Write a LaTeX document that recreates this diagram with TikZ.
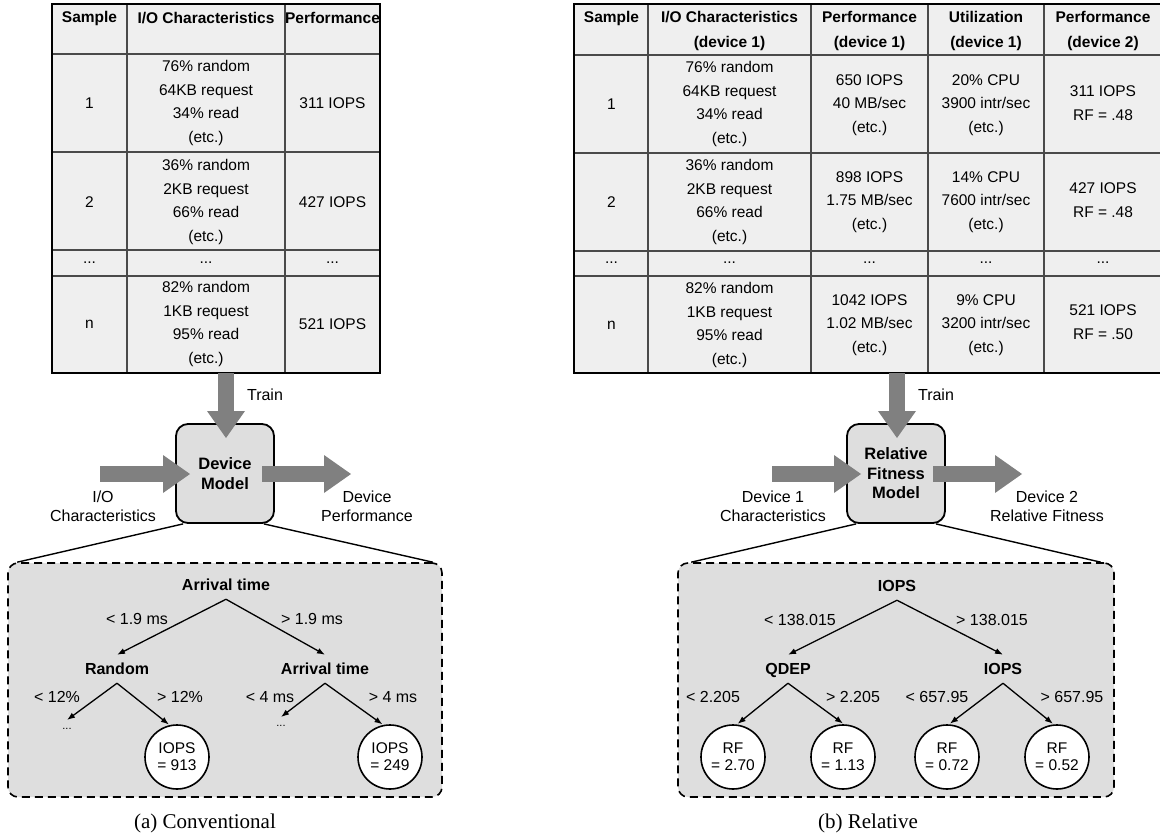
\documentclass[tikz,border=0pt]{standalone}
\usepackage{fontspec}
\setmainfont{Liberation Serif}
\newfontfamily\arial{Liberation Sans}
\usetikzlibrary{arrows.meta}
\definecolor{tabfill}{HTML}{EFEFEF}
\definecolor{boxfill}{HTML}{DEDEDE}
\definecolor{bigarrowc}{HTML}{808080}
\definecolor{gridc}{HTML}{4A4A4A}
\tikzset{
  cell/.style={font=\arial\fontsize{15.5}{23.5}\selectfont, align=center, inner sep=0pt},
  hcell/.style={font=\arial\bfseries\fontsize{15.5}{25}\selectfont, align=center, inner sep=0pt},
  gridline/.style={draw=gridc, line width=1.3pt},
  tableborder/.style={draw=black, line width=2.2pt},
  model/.style={draw, line width=1.8pt, fill=boxfill, rounded corners=12pt, minimum width=98pt, minimum height=99pt, align=center, font=\arial\bfseries\fontsize{16.5}{19.5}\selectfont, inner sep=0pt},
  bigarrow/.style={draw=bigarrowc, line width=16pt, -{Triangle[length=27pt,width=38pt,line width=0pt]}},
  sidelabel/.style={font=\arial\fontsize{16}{19}\selectfont, align=center, inner sep=0pt},
  dashbox/.style={draw, dash pattern=on 8pt off 5pt, line width=1.6pt, fill=boxfill, rounded corners=10pt, inner sep=0pt},
  zoomline/.style={line width=1.4pt},
  tnode/.style={font=\arial\bfseries\fontsize{16}{18}\selectfont, inner sep=0pt, text height=12.5pt, text depth=1pt, outer sep=7.5pt},
  elabel/.style={font=\arial\fontsize{16}{18}\selectfont, inner sep=0pt},
  leaf/.style={circle, draw, line width=1.6pt, fill=white, minimum size=64pt, inner sep=0pt, align=center, font=\arial\fontsize{15.5}{17}\selectfont, outer sep=1.5pt},
  tedge/.style={line width=1.3pt, -{Latex[length=8pt,width=6pt]}},
  dotsnode/.style={font=\arial\fontsize{11}{12}\selectfont, inner sep=0pt, text height=3pt, text depth=0pt, outer sep=6pt},
  caption/.style={font=\fontsize{21}{24}\selectfont, inner sep=0pt}
}
\begin{document}
\begin{tikzpicture}[x=1pt,y=-1pt]
\useasboundingbox (0,0) rectangle (1160,840);

% ---------- left table ----------
\fill[tabfill] (52,4) rectangle (380,373);
\draw[gridline] (127,4)--(127,373) (285,4)--(285,373)
  (52,54)--(380,54) (52,152)--(380,152) (52,250)--(380,250) (52,276)--(380,276);
\draw[tableborder] (52,4) rectangle (380,373);
\node[hcell] (lh1) at (89.5,18) {Sample};
\node[hcell] (lh2) at (206,18) {I/O Characteristics};
\node[hcell] (lh3) at (332.5,18) {Performance};
\node[cell] (l11) at (89.5,103) {1};
\node[cell] (l12) at (206,103) {76\% random\\64KB request\\34\% read\\(etc.)};
\node[cell] (l13) at (332.5,103) {311 IOPS};
\node[cell] (l21) at (89.5,202) {2};
\node[cell] (l22) at (206,202) {36\% random\\2KB request\\66\% read\\(etc.)};
\node[cell] (l23) at (332.5,202) {427 IOPS};
\node[cell] (l31) at (89.5,263) {...};
\node[cell] (l32) at (206,263) {...};
\node[cell] (l33) at (332.5,263) {...};
\node[cell] (l41) at (89.5,324) {n};
\node[cell] (l42) at (206,324) {82\% random\\1KB request\\95\% read\\(etc.)};
\node[cell] (l43) at (332.5,324) {521 IOPS};

% ---------- right table ----------
\fill[tabfill] (574,4) rectangle (1170,373);
\draw[gridline] (648,4)--(648,373) (811,4)--(811,373) (928,4)--(928,373) (1044,4)--(1044,373)
  (574,55)--(1170,55) (574,153)--(1170,153) (574,251)--(1170,251) (574,276)--(1170,276);
\draw[tableborder] (574,4) rectangle (1170,373);
\node[hcell] (rh1) at (611.5,18) {Sample};
\node[hcell] (rh2) at (729.5,30.5) {I/O Characteristics\\(device 1)};
\node[hcell] (rh3) at (869.5,30.5) {Performance\\(device 1)};
\node[hcell] (rh4) at (986,30.5) {Utilization\\(device 1)};
\node[hcell] (rh5) at (1103,30.5) {Performance\\(device 2)};
\node[cell] (r11) at (611.5,104) {1};
\node[cell] (r12) at (729.5,104) {76\% random\\64KB request\\34\% read\\(etc.)};
\node[cell] (r13) at (869.5,105) {650 IOPS\\40 MB/sec\\(etc.)};
\node[cell] (r14) at (986,105) {20\% CPU\\3900 intr/sec\\(etc.)};
\node[cell] (r15) at (1103,103) {311 IOPS\\RF = .48};
\node[cell] (r21) at (611.5,202) {2};
\node[cell] (r22) at (729.5,202) {36\% random\\2KB request\\66\% read\\(etc.)};
\node[cell] (r23) at (869.5,202) {898 IOPS\\1.75 MB/sec\\(etc.)};
\node[cell] (r24) at (986,202) {14\% CPU\\7600 intr/sec\\(etc.)};
\node[cell] (r25) at (1103,200) {427 IOPS\\RF = .48};
\node[cell] (r31) at (611.5,263) {...};
\node[cell] (r32) at (729.5,263) {...};
\node[cell] (r33) at (869.5,263) {...};
\node[cell] (r34) at (986,263) {...};
\node[cell] (r35) at (1103,263) {...};
\node[cell] (r41) at (611.5,325) {n};
\node[cell] (r42) at (729.5,325) {82\% random\\1KB request\\95\% read\\(etc.)};
\node[cell] (r43) at (869.5,325) {1042 IOPS\\1.02 MB/sec\\(etc.)};
\node[cell] (r44) at (986,325) {9\% CPU\\3200 intr/sec\\(etc.)};
\node[cell] (r45) at (1103,322) {521 IOPS\\RF = .50};

% ---------- dashed zoom boxes ----------
\node[dashbox, minimum width=434pt, minimum height=234pt] (ltree) at (225,680) {};
\node[dashbox, minimum width=436pt, minimum height=234pt] (rtree) at (896,680) {};

% ---------- model boxes ----------
\node[model] (dm) at (225,473.5) {Device\\Model};
\node[model] (rfm) at (896,473.5) {Relative\\Fitness\\Model};

\draw[zoomline] ([xshift=8pt]dm.south west) -- ([xshift=10pt]ltree.north west);
\draw[zoomline] ([xshift=-11pt]dm.south east) -- ([xshift=-10pt]ltree.north east);
\draw[zoomline] ([xshift=10pt]rfm.south west) -- ([xshift=14pt]rtree.north west);
\draw[zoomline] ([xshift=-10pt]rfm.south east) -- ([xshift=-14pt]rtree.north east);

% ---------- big arrows ----------
\coordinate (ltr0) at (226,373); \coordinate (ltr1) at (226,438);
\coordinate (lin0) at (100,474); \coordinate (lin1) at (190,474);
\coordinate (lout0) at (262,474); \coordinate (lout1) at (351,474);
\coordinate (rtr0) at (897,373); \coordinate (rtr1) at (897,438);
\coordinate (rin0) at (772,474); \coordinate (rin1) at (861,474);
\coordinate (rout0) at (933,474); \coordinate (rout1) at (1022,474);
\draw[bigarrow] (ltr0) -- (ltr1);
\draw[bigarrow] (lin0) -- (lin1);
\draw[bigarrow] (lout0) -- (lout1);
\draw[bigarrow] (rtr0) -- (rtr1);
\draw[bigarrow] (rin0) -- (rin1);
\draw[bigarrow] (rout0) -- (rout1);

\node[sidelabel] (ltrain) at (265,395) {Train};
\node[sidelabel] (rtrain) at (936,395) {Train};
\node[sidelabel] (lio) at (103,506.5) {I/O\\Characteristics};
\node[sidelabel] (lperf) at (367,506.5) {Device\\Performance};
\node[sidelabel] (rd1) at (773,506.5) {Device 1\\Characteristics};
\node[sidelabel] (rd2) at (1047,506.5) {Device 2\\Relative Fitness};

% ---------- left tree ----------
\node[tnode] (la) at (226,585) {Arrival time};
\node[tnode] (lr) at (117,669) {Random};
\node[tnode] (lb) at (325,669) {Arrival time};
\node[elabel] (ll1) at (137,619) {< 1.9 ms};
\node[elabel] (ll2) at (312,619) {> 1.9 ms};
\node[elabel] (ll3) at (57,697) {< 12\%};
\node[elabel] (ll4) at (180,697) {> 12\%};
\node[elabel] (ll5) at (270,697) {< 4 ms};
\node[elabel] (ll6) at (393,697) {> 4 ms};
\node[dotsnode, anchor=base] (ld1) at (67,729) {...};
\node[dotsnode, anchor=base] (ld2) at (281,726) {...};
\node[leaf] (lc1) at (177,757) {IOPS\\= 913};
\node[leaf] (lc2) at (390,757) {IOPS\\= 249};
\draw[tedge] (la.south) -- (lr.north);
\draw[tedge] (la.south) -- (lb.north);
\draw[tedge] (lr.south) -- (ld1.north);
\draw[tedge] (lr.south) -- (lc1.104);
\draw[tedge] (lb.south) -- (ld2.north);
\draw[tedge] (lb.south) -- (lc2.103);

% ---------- right tree ----------
\node[tnode] (ra) at (897,586) {IOPS};
\node[tnode] (rq) at (788,669) {QDEP};
\node[tnode] (rb) at (1003,669) {IOPS};
\node[elabel] (rl1) at (800,620) {< 138.015};
\node[elabel] (rl2) at (992,620) {> 138.015};
\node[elabel] (rl3) at (713,697) {< 2.205};
\node[elabel] (rl4) at (853,697) {> 2.205};
\node[elabel] (rl5) at (937,697) {< 657.95};
\node[elabel] (rl6) at (1072,697) {> 657.95};
\node[leaf] (rc1) at (733,757) {RF\\= 2.70};
\node[leaf] (rc2) at (843,757) {RF\\= 1.13};
\node[leaf] (rc3) at (947,757) {RF\\= 0.72};
\node[leaf] (rc4) at (1057,757) {RF\\= 0.52};
\draw[tedge] (ra.south) -- (rq.north);
\draw[tedge] (ra.south) -- (rb.north);
\draw[tedge] (rq.south) -- (rc1.82);
\draw[tedge] (rq.south) -- (rc2.90);
\draw[tedge] (rb.south) -- (rc3.85);
\draw[tedge] (rb.south) -- (rc4.97);

% ---------- captions ----------
\node[caption] (capa) at (205,823) {(a) Conventional};
\node[caption] (capb) at (868,823) {(b) Relative};
\end{tikzpicture}
\end{document}
